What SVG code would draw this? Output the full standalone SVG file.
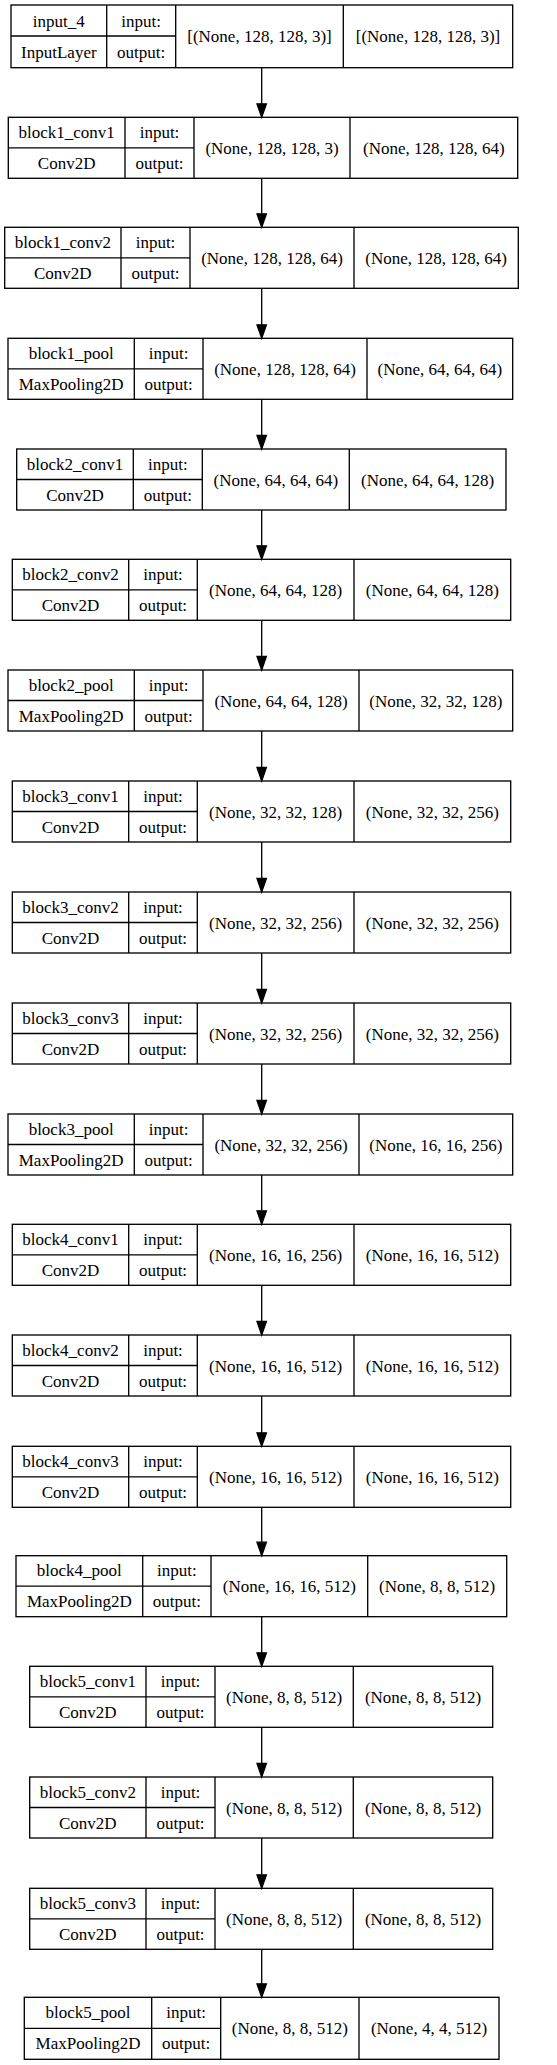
<svg xmlns="http://www.w3.org/2000/svg" width="557" height="2065" viewBox="0 0 557 2065">
<style>
.b{fill:none;stroke:#000;stroke-width:1.33}
.l{stroke:#000;stroke-width:1.33}
text{font-family:"Liberation Serif","Times New Roman",serif;font-size:17px;fill:#000;text-anchor:middle}
.ah{fill:#000;stroke:#000;stroke-width:1.33}
</style>
<rect width="557" height="2065" fill="#fff"/>
<g id="connectors">
<line class="l" x1="261.7" y1="67.7" x2="261.7" y2="103.8"/><polygon class="ah" points="257,103.8 266.4,103.8 261.7,117.3"/>
<line class="l" x1="261.7" y1="178.3" x2="261.7" y2="213.8"/><polygon class="ah" points="257,213.8 266.4,213.8 261.7,227.3"/>
<line class="l" x1="261.7" y1="288.3" x2="261.7" y2="324.8"/><polygon class="ah" points="257,324.8 266.4,324.8 261.7,338.3"/>
<line class="l" x1="261.7" y1="399.3" x2="261.7" y2="435.5"/><polygon class="ah" points="257,435.5 266.4,435.5 261.7,449"/>
<line class="l" x1="261.7" y1="510" x2="261.7" y2="545.8"/><polygon class="ah" points="257,545.8 266.4,545.8 261.7,559.3"/>
<line class="l" x1="261.7" y1="620.3" x2="261.7" y2="656.5"/><polygon class="ah" points="257,656.5 266.4,656.5 261.7,670"/>
<line class="l" x1="261.7" y1="731" x2="261.7" y2="767.5"/><polygon class="ah" points="257,767.5 266.4,767.5 261.7,781"/>
<line class="l" x1="261.7" y1="842" x2="261.7" y2="878.5"/><polygon class="ah" points="257,878.5 266.4,878.5 261.7,892"/>
<line class="l" x1="261.7" y1="953" x2="261.7" y2="989.5"/><polygon class="ah" points="257,989.5 266.4,989.5 261.7,1003"/>
<line class="l" x1="261.7" y1="1064" x2="261.7" y2="1100.5"/><polygon class="ah" points="257,1100.5 266.4,1100.5 261.7,1114"/>
<line class="l" x1="261.7" y1="1175" x2="261.7" y2="1210.8"/><polygon class="ah" points="257,1210.8 266.4,1210.8 261.7,1224.3"/>
<line class="l" x1="261.7" y1="1285.3" x2="261.7" y2="1321.5"/><polygon class="ah" points="257,1321.5 266.4,1321.5 261.7,1335"/>
<line class="l" x1="261.7" y1="1396" x2="261.7" y2="1432.8"/><polygon class="ah" points="257,1432.8 266.4,1432.8 261.7,1446.3"/>
<line class="l" x1="261.7" y1="1507.3" x2="261.7" y2="1542.2"/><polygon class="ah" points="257,1542.2 266.4,1542.2 261.7,1555.7"/>
<line class="l" x1="261.7" y1="1616.7" x2="261.7" y2="1652.8"/><polygon class="ah" points="257,1652.8 266.4,1652.8 261.7,1666.3"/>
<line class="l" x1="261.7" y1="1727.3" x2="261.7" y2="1763.5"/><polygon class="ah" points="257,1763.5 266.4,1763.5 261.7,1777"/>
<line class="l" x1="261.7" y1="1838" x2="261.7" y2="1874.8"/><polygon class="ah" points="257,1874.8 266.4,1874.8 261.7,1888.3"/>
<line class="l" x1="261.7" y1="1949.3" x2="261.7" y2="1983.8"/><polygon class="ah" points="257,1983.8 266.4,1983.8 261.7,1997.3"/>
</g>
<g id="input_4" transform="translate(0,5)">
<rect class="b" x="11" y="0" width="501.7" height="62.7"/>
<line class="l" x1="11" y1="31" x2="175.7" y2="31"/><line class="l" x1="106.7" y1="0" x2="106.7" y2="62.7"/><line class="l" x1="175.7" y1="0" x2="175.7" y2="62.7"/><line class="l" x1="343.3" y1="0" x2="343.3" y2="62.7"/>
<text x="58.85" y="21.5">input_4</text><text x="58.85" y="52.5">InputLayer</text><text x="141.2" y="21.5">input:</text><text x="141.2" y="52.5">output:</text>
<text x="259.5" y="37">[(None, 128, 128, 3)]</text><text x="428" y="37">[(None, 128, 128, 3)]</text>
</g>
<g id="block1_conv1" transform="translate(0,117.3)">
<rect class="b" x="8.3" y="0" width="509.4" height="61"/>
<line class="l" x1="8.3" y1="30.5" x2="194" y2="30.5"/><line class="l" x1="125" y1="0" x2="125" y2="61"/><line class="l" x1="194" y1="0" x2="194" y2="61"/><line class="l" x1="350" y1="0" x2="350" y2="61"/>
<text x="66.65" y="20.5">block1_conv1</text><text x="66.65" y="51.5">Conv2D</text><text x="159.5" y="20.5">input:</text><text x="159.5" y="51.5">output:</text>
<text x="272" y="36.5">(None, 128, 128, 3)</text><text x="433.85" y="36.5">(None, 128, 128, 64)</text>
</g>
<g id="block1_conv2" transform="translate(0,227.3)">
<rect class="b" x="4.7" y="0" width="513.6" height="61"/>
<line class="l" x1="4.7" y1="30.5" x2="190" y2="30.5"/><line class="l" x1="121" y1="0" x2="121" y2="61"/><line class="l" x1="190" y1="0" x2="190" y2="61"/><line class="l" x1="354" y1="0" x2="354" y2="61"/>
<text x="62.85" y="20.5">block1_conv2</text><text x="62.85" y="51.5">Conv2D</text><text x="155.5" y="20.5">input:</text><text x="155.5" y="51.5">output:</text>
<text x="272" y="36.5">(None, 128, 128, 64)</text><text x="436.15" y="36.5">(None, 128, 128, 64)</text>
</g>
<g id="block1_pool" transform="translate(0,338.3)">
<rect class="b" x="8" y="0" width="504.7" height="61"/>
<line class="l" x1="8" y1="30.5" x2="203" y2="30.5"/><line class="l" x1="134.3" y1="0" x2="134.3" y2="61"/><line class="l" x1="203" y1="0" x2="203" y2="61"/><line class="l" x1="367" y1="0" x2="367" y2="61"/>
<text x="71.15" y="20.5">block1_pool</text><text x="71.15" y="51.5">MaxPooling2D</text><text x="168.65" y="20.5">input:</text><text x="168.65" y="51.5">output:</text>
<text x="285" y="36.5">(None, 128, 128, 64)</text><text x="439.85" y="36.5">(None, 64, 64, 64)</text>
</g>
<g id="block2_conv1" transform="translate(0,449)">
<rect class="b" x="16.7" y="0" width="489.3" height="61"/>
<line class="l" x1="16.7" y1="30.5" x2="202.3" y2="30.5"/><line class="l" x1="133.3" y1="0" x2="133.3" y2="61"/><line class="l" x1="202.3" y1="0" x2="202.3" y2="61"/><line class="l" x1="349.3" y1="0" x2="349.3" y2="61"/>
<text x="75" y="20.5">block2_conv1</text><text x="75" y="51.5">Conv2D</text><text x="167.8" y="20.5">input:</text><text x="167.8" y="51.5">output:</text>
<text x="275.8" y="36.5">(None, 64, 64, 64)</text><text x="427.65" y="36.5">(None, 64, 64, 128)</text>
</g>
<g id="block2_conv2" transform="translate(0,559.3)">
<rect class="b" x="12.3" y="0" width="498.4" height="61"/>
<line class="l" x1="12.3" y1="30.5" x2="197.3" y2="30.5"/><line class="l" x1="128.7" y1="0" x2="128.7" y2="61"/><line class="l" x1="197.3" y1="0" x2="197.3" y2="61"/><line class="l" x1="354" y1="0" x2="354" y2="61"/>
<text x="70.5" y="20.5">block2_conv2</text><text x="70.5" y="51.5">Conv2D</text><text x="163" y="20.5">input:</text><text x="163" y="51.5">output:</text>
<text x="275.65" y="36.5">(None, 64, 64, 128)</text><text x="432.35" y="36.5">(None, 64, 64, 128)</text>
</g>
<g id="block2_pool" transform="translate(0,670)">
<rect class="b" x="8" y="0" width="504.7" height="61"/>
<line class="l" x1="8" y1="30.5" x2="203" y2="30.5"/><line class="l" x1="134.3" y1="0" x2="134.3" y2="61"/><line class="l" x1="203" y1="0" x2="203" y2="61"/><line class="l" x1="359" y1="0" x2="359" y2="61"/>
<text x="71.15" y="20.5">block2_pool</text><text x="71.15" y="51.5">MaxPooling2D</text><text x="168.65" y="20.5">input:</text><text x="168.65" y="51.5">output:</text>
<text x="281" y="36.5">(None, 64, 64, 128)</text><text x="435.85" y="36.5">(None, 32, 32, 128)</text>
</g>
<g id="block3_conv1" transform="translate(0,781)">
<rect class="b" x="12.3" y="0" width="498.4" height="61"/>
<line class="l" x1="12.3" y1="30.5" x2="197.3" y2="30.5"/><line class="l" x1="128.7" y1="0" x2="128.7" y2="61"/><line class="l" x1="197.3" y1="0" x2="197.3" y2="61"/><line class="l" x1="354" y1="0" x2="354" y2="61"/>
<text x="70.5" y="20.5">block3_conv1</text><text x="70.5" y="51.5">Conv2D</text><text x="163" y="20.5">input:</text><text x="163" y="51.5">output:</text>
<text x="275.65" y="36.5">(None, 32, 32, 128)</text><text x="432.35" y="36.5">(None, 32, 32, 256)</text>
</g>
<g id="block3_conv2" transform="translate(0,892)">
<rect class="b" x="12.3" y="0" width="498.4" height="61"/>
<line class="l" x1="12.3" y1="30.5" x2="197.3" y2="30.5"/><line class="l" x1="128.7" y1="0" x2="128.7" y2="61"/><line class="l" x1="197.3" y1="0" x2="197.3" y2="61"/><line class="l" x1="354" y1="0" x2="354" y2="61"/>
<text x="70.5" y="20.5">block3_conv2</text><text x="70.5" y="51.5">Conv2D</text><text x="163" y="20.5">input:</text><text x="163" y="51.5">output:</text>
<text x="275.65" y="36.5">(None, 32, 32, 256)</text><text x="432.35" y="36.5">(None, 32, 32, 256)</text>
</g>
<g id="block3_conv3" transform="translate(0,1003)">
<rect class="b" x="12.3" y="0" width="498.4" height="61"/>
<line class="l" x1="12.3" y1="30.5" x2="197.3" y2="30.5"/><line class="l" x1="128.7" y1="0" x2="128.7" y2="61"/><line class="l" x1="197.3" y1="0" x2="197.3" y2="61"/><line class="l" x1="354" y1="0" x2="354" y2="61"/>
<text x="70.5" y="20.5">block3_conv3</text><text x="70.5" y="51.5">Conv2D</text><text x="163" y="20.5">input:</text><text x="163" y="51.5">output:</text>
<text x="275.65" y="36.5">(None, 32, 32, 256)</text><text x="432.35" y="36.5">(None, 32, 32, 256)</text>
</g>
<g id="block3_pool" transform="translate(0,1114)">
<rect class="b" x="8" y="0" width="504.7" height="61"/>
<line class="l" x1="8" y1="30.5" x2="203" y2="30.5"/><line class="l" x1="134.3" y1="0" x2="134.3" y2="61"/><line class="l" x1="203" y1="0" x2="203" y2="61"/><line class="l" x1="359" y1="0" x2="359" y2="61"/>
<text x="71.15" y="20.5">block3_pool</text><text x="71.15" y="51.5">MaxPooling2D</text><text x="168.65" y="20.5">input:</text><text x="168.65" y="51.5">output:</text>
<text x="281" y="36.5">(None, 32, 32, 256)</text><text x="435.85" y="36.5">(None, 16, 16, 256)</text>
</g>
<g id="block4_conv1" transform="translate(0,1224.3)">
<rect class="b" x="12.3" y="0" width="498.4" height="61"/>
<line class="l" x1="12.3" y1="30.5" x2="197.3" y2="30.5"/><line class="l" x1="128.7" y1="0" x2="128.7" y2="61"/><line class="l" x1="197.3" y1="0" x2="197.3" y2="61"/><line class="l" x1="354" y1="0" x2="354" y2="61"/>
<text x="70.5" y="20.5">block4_conv1</text><text x="70.5" y="51.5">Conv2D</text><text x="163" y="20.5">input:</text><text x="163" y="51.5">output:</text>
<text x="275.65" y="36.5">(None, 16, 16, 256)</text><text x="432.35" y="36.5">(None, 16, 16, 512)</text>
</g>
<g id="block4_conv2" transform="translate(0,1335)">
<rect class="b" x="12.3" y="0" width="498.4" height="61"/>
<line class="l" x1="12.3" y1="30.5" x2="197.3" y2="30.5"/><line class="l" x1="128.7" y1="0" x2="128.7" y2="61"/><line class="l" x1="197.3" y1="0" x2="197.3" y2="61"/><line class="l" x1="354" y1="0" x2="354" y2="61"/>
<text x="70.5" y="20.5">block4_conv2</text><text x="70.5" y="51.5">Conv2D</text><text x="163" y="20.5">input:</text><text x="163" y="51.5">output:</text>
<text x="275.65" y="36.5">(None, 16, 16, 512)</text><text x="432.35" y="36.5">(None, 16, 16, 512)</text>
</g>
<g id="block4_conv3" transform="translate(0,1446.3)">
<rect class="b" x="12.3" y="0" width="498.4" height="61"/>
<line class="l" x1="12.3" y1="30.5" x2="197.3" y2="30.5"/><line class="l" x1="128.7" y1="0" x2="128.7" y2="61"/><line class="l" x1="197.3" y1="0" x2="197.3" y2="61"/><line class="l" x1="354" y1="0" x2="354" y2="61"/>
<text x="70.5" y="20.5">block4_conv3</text><text x="70.5" y="51.5">Conv2D</text><text x="163" y="20.5">input:</text><text x="163" y="51.5">output:</text>
<text x="275.65" y="36.5">(None, 16, 16, 512)</text><text x="432.35" y="36.5">(None, 16, 16, 512)</text>
</g>
<g id="block4_pool" transform="translate(0,1555.7)">
<rect class="b" x="16" y="0" width="490.7" height="61"/>
<line class="l" x1="16" y1="30.5" x2="211" y2="30.5"/><line class="l" x1="142.7" y1="0" x2="142.7" y2="61"/><line class="l" x1="211" y1="0" x2="211" y2="61"/><line class="l" x1="367.7" y1="0" x2="367.7" y2="61"/>
<text x="79.35" y="20.5">block4_pool</text><text x="79.35" y="51.5">MaxPooling2D</text><text x="176.85" y="20.5">input:</text><text x="176.85" y="51.5">output:</text>
<text x="289.35" y="36.5">(None, 16, 16, 512)</text><text x="437.2" y="36.5">(None, 8, 8, 512)</text>
</g>
<g id="block5_conv1" transform="translate(0,1666.3)">
<rect class="b" x="29.7" y="0" width="463" height="61"/>
<line class="l" x1="29.7" y1="30.5" x2="215" y2="30.5"/><line class="l" x1="146" y1="0" x2="146" y2="61"/><line class="l" x1="215" y1="0" x2="215" y2="61"/><line class="l" x1="353.3" y1="0" x2="353.3" y2="61"/>
<text x="87.85" y="20.5">block5_conv1</text><text x="87.85" y="51.5">Conv2D</text><text x="180.5" y="20.5">input:</text><text x="180.5" y="51.5">output:</text>
<text x="284.15" y="36.5">(None, 8, 8, 512)</text><text x="423" y="36.5">(None, 8, 8, 512)</text>
</g>
<g id="block5_conv2" transform="translate(0,1777)">
<rect class="b" x="29.7" y="0" width="463" height="61"/>
<line class="l" x1="29.7" y1="30.5" x2="215" y2="30.5"/><line class="l" x1="146" y1="0" x2="146" y2="61"/><line class="l" x1="215" y1="0" x2="215" y2="61"/><line class="l" x1="353.3" y1="0" x2="353.3" y2="61"/>
<text x="87.85" y="20.5">block5_conv2</text><text x="87.85" y="51.5">Conv2D</text><text x="180.5" y="20.5">input:</text><text x="180.5" y="51.5">output:</text>
<text x="284.15" y="36.5">(None, 8, 8, 512)</text><text x="423" y="36.5">(None, 8, 8, 512)</text>
</g>
<g id="block5_conv3" transform="translate(0,1888.3)">
<rect class="b" x="29.7" y="0" width="463" height="61"/>
<line class="l" x1="29.7" y1="30.5" x2="215" y2="30.5"/><line class="l" x1="146" y1="0" x2="146" y2="61"/><line class="l" x1="215" y1="0" x2="215" y2="61"/><line class="l" x1="353.3" y1="0" x2="353.3" y2="61"/>
<text x="87.85" y="20.5">block5_conv3</text><text x="87.85" y="51.5">Conv2D</text><text x="180.5" y="20.5">input:</text><text x="180.5" y="51.5">output:</text>
<text x="284.15" y="36.5">(None, 8, 8, 512)</text><text x="423" y="36.5">(None, 8, 8, 512)</text>
</g>
<g id="block5_pool" transform="translate(0,1997.3)">
<rect class="b" x="24.3" y="0" width="474.7" height="62"/>
<line class="l" x1="24.3" y1="31" x2="220.7" y2="31"/><line class="l" x1="151.7" y1="0" x2="151.7" y2="62"/><line class="l" x1="220.7" y1="0" x2="220.7" y2="62"/><line class="l" x1="359" y1="0" x2="359" y2="62"/>
<text x="88" y="21">block5_pool</text><text x="88" y="52">MaxPooling2D</text><text x="186.2" y="21">input:</text><text x="186.2" y="52">output:</text>
<text x="289.85" y="37">(None, 8, 8, 512)</text><text x="429" y="37">(None, 4, 4, 512)</text>
</g>
</svg>
